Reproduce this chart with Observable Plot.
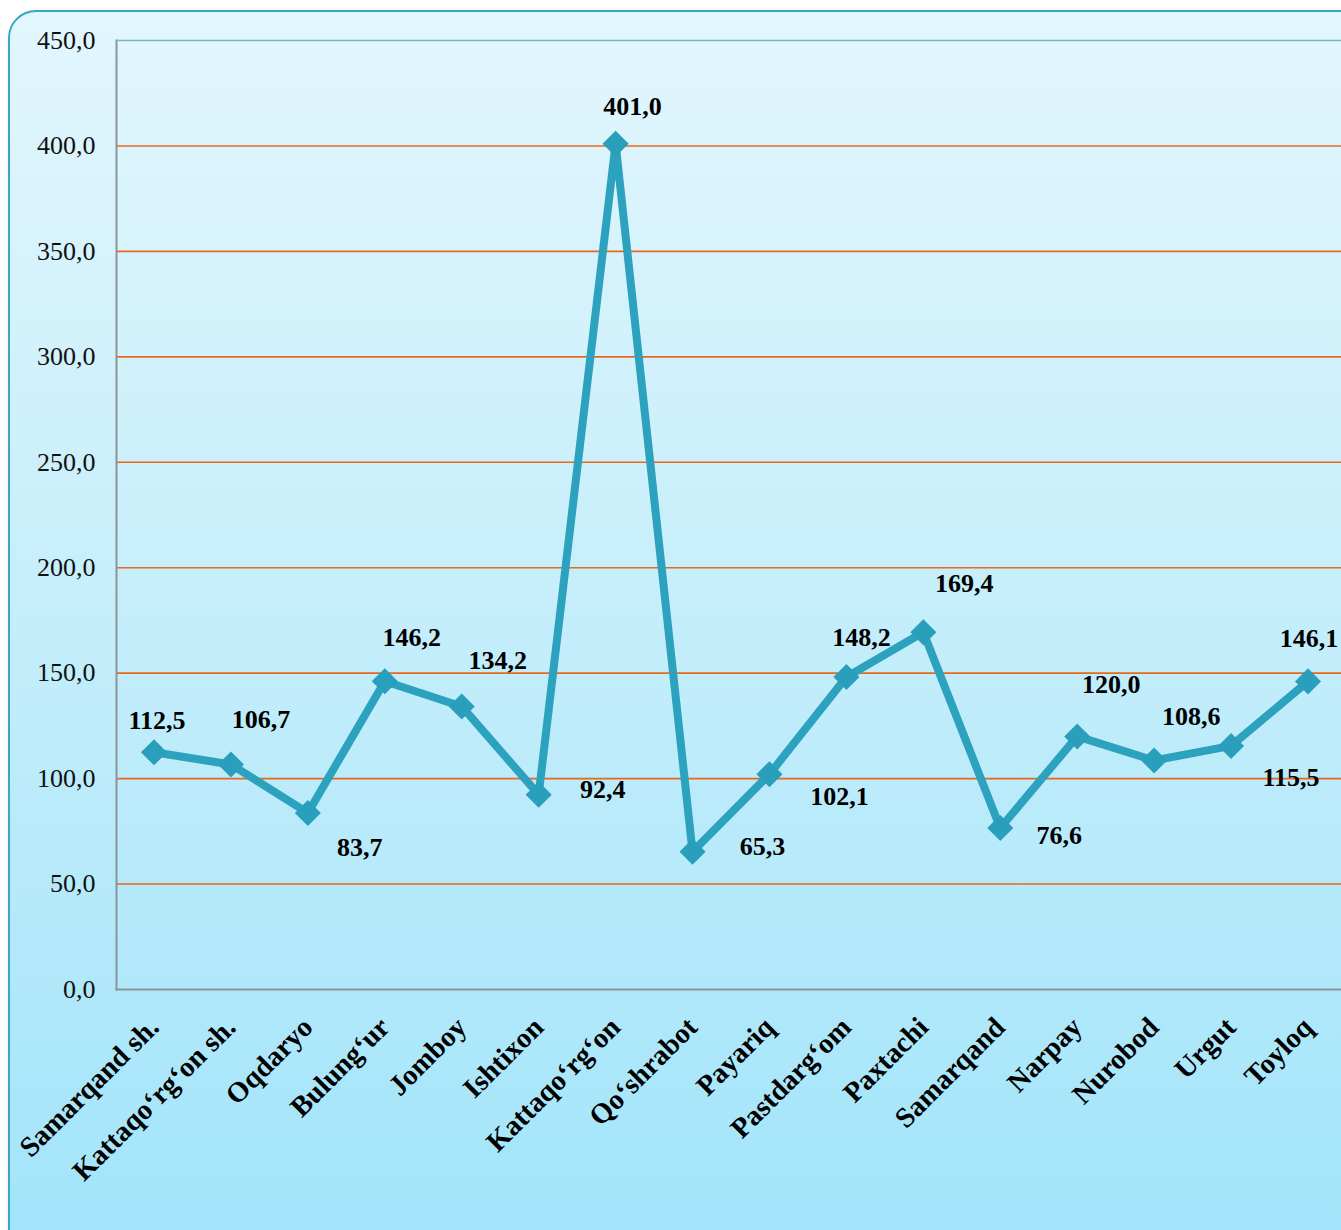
<!DOCTYPE html>
<html>
<head>
<meta charset="utf-8">
<script src="https://cdn.jsdelivr.net/npm/d3@7"></script>
<script src="https://cdn.jsdelivr.net/npm/@observablehq/plot@0.6"></script>
<style>
  html, body { margin: 0; padding: 0; overflow: hidden; background: #ffffff; }
  #wrap { position: relative; width: 1341px; height: 1230px; overflow: hidden; }
  #bg {
    position: absolute; left: 8px; top: 10px; width: 1400px; height: 1300px;
    border: 2px solid #3aa6c3; border-radius: 28px;
    background: linear-gradient(to bottom, #e2f6fd 0%, #c6eefb 45%, #9ee3fa 100%);
    box-shadow: 1px 1px 3px rgba(0,0,0,0.25);
  }
  #chart { position: absolute; left: 0; top: 0; }
  #chart svg { background: transparent !important; }
</style>
</head>
<body>
<div id="wrap">
  <div id="bg"></div>
  <div id="chart"></div>
</div>
<script>
const categories = ["Samarqand sh.", "Kattaqo‘rg‘on sh.", "Oqdaryo", "Bulung‘ur", "Jomboy", "Ishtixon", "Kattaqo‘rg‘on", "Qo‘shrabot", "Payariq", "Pastdarg‘om", "Paxtachi", "Samarqand", "Narpay", "Nurobod", "Urgut", "Toyloq"];
const values = [112.5, 106.7, 83.7, 146.2, 134.2, 92.4, 401.0, 65.3, 102.1, 148.2, 169.4, 76.6, 120.0, 108.6, 115.5, 146.1];
const yTicks = [0, 50, 100, 150, 200, 250, 300, 350, 400, 450];
const gridTicks = [50, 100, 150, 200, 250, 300, 350, 400];
// label placement offsets (style only)
const labelOffsets = [[3,-32],[30,-45],[52,35],[27,-44],[36,-46],[64,-5],[17,-37],[70,-5],[70,22],[15,-39],[41,-49],[59,8],[34,-52],[37,-44],[60,32],[1,-43]];

const data = categories.map((c, i) => ({cat: c, v: values[i]}));
const fmt = v => v.toFixed(1).replace(".", ",");
const font = "'Liberation Serif', 'Times New Roman', serif";

const labelMarks = data.map((d, i) => Plot.text([d], {
  x: "cat", y: "v", text: d => fmt(d.v),
  dx: labelOffsets[i][0], dy: labelOffsets[i][1],
  fontSize: 26, fontWeight: "bold", fill: "#000", fontFamily: font
}));

const chart = Plot.plot({
  width: 1341,
  height: 1230,
  marginLeft: 116,
  marginRight: 0,
  marginTop: 40,
  marginBottom: 241,
  style: {fontFamily: font, background: "transparent", overflow: "visible"},
  x: {type: "point", domain: categories, range: [153.5, 1307.5], padding: 0, round: false, label: null},
  y: {domain: [0, 450], label: null},
  marks: [
    Plot.ruleY(gridTicks, {stroke: "#e8681a", strokeWidth: 1.6}),
    Plot.frame({anchor: "left", stroke: "#8c9498", strokeWidth: 2}),
    Plot.frame({anchor: "bottom", stroke: "#8c9498", strokeWidth: 2}),
    Plot.frame({anchor: "top", stroke: "#7fb3c2", strokeWidth: 1.5}),
    Plot.axisY({ticks: yTicks, tickFormat: fmt, tickSize: 0, tickPadding: 21, fontSize: 26, fill: "#111", label: null}),
    Plot.axisX({tickRotate: -45, tickSize: 0, tickPadding: 33, fontSize: 28.5, fontWeight: "bold", fill: "#000", label: null}),
    Plot.line(data, {x: "cat", y: "v", stroke: "#2ca2bf", strokeWidth: 8, strokeLinejoin: "round"}),
    Plot.dot(data, {x: "cat", y: "v", symbol: "square", rotate: 45, r: 10.4, fill: "#2a9fbc", stroke: "none"}),
    ...labelMarks
  ]
});
document.getElementById("chart").appendChild(chart);
</script>
</body>
</html>
